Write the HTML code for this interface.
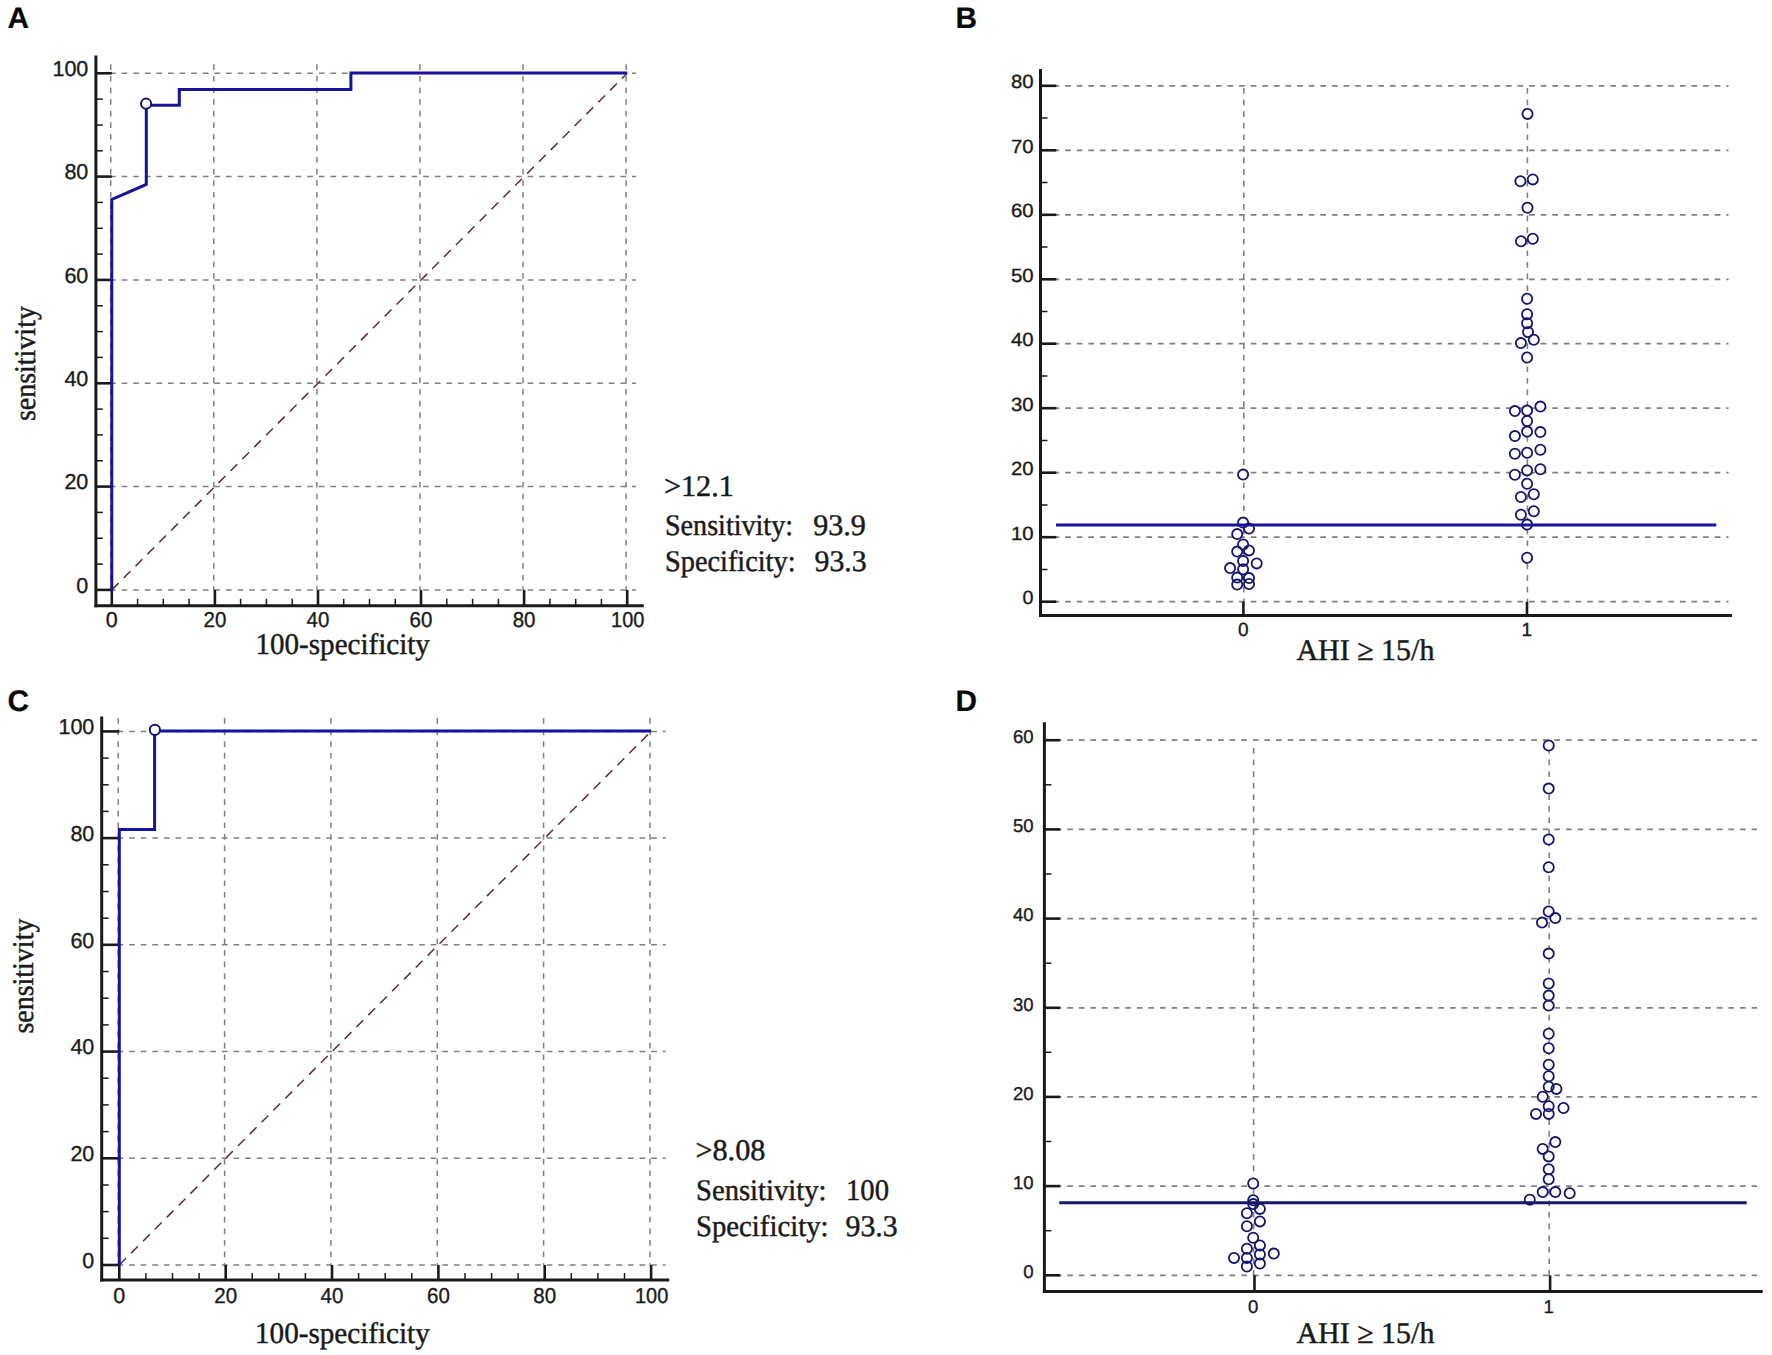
<!DOCTYPE html>
<html lang="en"><head><meta charset="utf-8"><title>ROC curves and dot plots</title>
<style>html,body{margin:0;padding:0;background:#fff}svg{display:block}</style></head>
<body>
<svg width="1772" height="1355" viewBox="0 0 1772 1355" text-rendering="geometricPrecision">
<rect width="1772" height="1355" fill="#fff"/>
<text x="7.6" y="28.1" font-family='"Liberation Sans", sans-serif' font-size="29.8" text-anchor="start" fill="#0a0a0a" font-weight="bold" stroke="#0a0a0a" stroke-width="0.2">A</text>
<text x="955.4" y="28.0" font-family='"Liberation Sans", sans-serif' font-size="29.8" text-anchor="start" fill="#0a0a0a" font-weight="bold" stroke="#0a0a0a" stroke-width="0.2">B</text>
<text x="7.4" y="711.0" font-family='"Liberation Sans", sans-serif' font-size="29.8" text-anchor="start" fill="#0a0a0a" font-weight="bold" stroke="#0a0a0a" stroke-width="0.2">C</text>
<text x="955.4" y="711.0" font-family='"Liberation Sans", sans-serif' font-size="29.8" text-anchor="start" fill="#0a0a0a" font-weight="bold" stroke="#0a0a0a" stroke-width="0.2">D</text>
<line x1="110.0" y1="589.9" x2="636.0" y2="589.9" stroke="#808080" stroke-width="1.5" stroke-dasharray="5.7 5.9"/>
<line x1="110.7" y1="64.3" x2="110.7" y2="589.9" stroke="#808080" stroke-width="1.5" stroke-dasharray="5.7 5.9"/>
<line x1="110.0" y1="486.6" x2="636.0" y2="486.6" stroke="#808080" stroke-width="1.5" stroke-dasharray="5.7 5.9"/>
<line x1="213.8" y1="64.3" x2="213.8" y2="589.9" stroke="#808080" stroke-width="1.5" stroke-dasharray="5.7 5.9"/>
<line x1="110.0" y1="383.3" x2="636.0" y2="383.3" stroke="#808080" stroke-width="1.5" stroke-dasharray="5.7 5.9"/>
<line x1="316.9" y1="64.3" x2="316.9" y2="589.9" stroke="#808080" stroke-width="1.5" stroke-dasharray="5.7 5.9"/>
<line x1="110.0" y1="279.9" x2="636.0" y2="279.9" stroke="#808080" stroke-width="1.5" stroke-dasharray="5.7 5.9"/>
<line x1="419.9" y1="64.3" x2="419.9" y2="589.9" stroke="#808080" stroke-width="1.5" stroke-dasharray="5.7 5.9"/>
<line x1="110.0" y1="176.6" x2="636.0" y2="176.6" stroke="#808080" stroke-width="1.5" stroke-dasharray="5.7 5.9"/>
<line x1="523.0" y1="64.3" x2="523.0" y2="589.9" stroke="#808080" stroke-width="1.5" stroke-dasharray="5.7 5.9"/>
<line x1="110.0" y1="73.3" x2="636.0" y2="73.3" stroke="#808080" stroke-width="1.5" stroke-dasharray="5.7 5.9"/>
<line x1="626.1" y1="64.3" x2="626.1" y2="589.9" stroke="#808080" stroke-width="1.5" stroke-dasharray="5.7 5.9"/>
<line x1="111.8" y1="589.9" x2="627.2" y2="73.3" stroke="#5b2d3c" stroke-width="1.5" stroke-dasharray="9.6 7.2"/>
<line x1="95.9" y1="55.5" x2="95.9" y2="607.3" stroke="#1a1a1a" stroke-width="3"/>
<line x1="94.4" y1="605.8" x2="643.8" y2="605.8" stroke="#1a1a1a" stroke-width="3"/>
<line x1="95.9" y1="589.9" x2="111.8" y2="589.9" stroke="#1a1a1a" stroke-width="2.6"/>
<line x1="111.8" y1="605.8" x2="111.8" y2="589.9" stroke="#1a1a1a" stroke-width="2.6"/>
<line x1="95.9" y1="564.1" x2="102.9" y2="564.1" stroke="#1a1a1a" stroke-width="1.5"/>
<line x1="137.6" y1="605.8" x2="137.6" y2="598.8" stroke="#1a1a1a" stroke-width="1.5"/>
<line x1="95.9" y1="538.2" x2="102.9" y2="538.2" stroke="#1a1a1a" stroke-width="1.5"/>
<line x1="163.3" y1="605.8" x2="163.3" y2="598.8" stroke="#1a1a1a" stroke-width="1.5"/>
<line x1="95.9" y1="512.4" x2="102.9" y2="512.4" stroke="#1a1a1a" stroke-width="1.5"/>
<line x1="189.1" y1="605.8" x2="189.1" y2="598.8" stroke="#1a1a1a" stroke-width="1.5"/>
<line x1="95.9" y1="486.6" x2="111.8" y2="486.6" stroke="#1a1a1a" stroke-width="2.6"/>
<line x1="214.9" y1="605.8" x2="214.9" y2="589.9" stroke="#1a1a1a" stroke-width="2.6"/>
<line x1="95.9" y1="460.8" x2="102.9" y2="460.8" stroke="#1a1a1a" stroke-width="1.5"/>
<line x1="240.6" y1="605.8" x2="240.6" y2="598.8" stroke="#1a1a1a" stroke-width="1.5"/>
<line x1="95.9" y1="434.9" x2="102.9" y2="434.9" stroke="#1a1a1a" stroke-width="1.5"/>
<line x1="266.4" y1="605.8" x2="266.4" y2="598.8" stroke="#1a1a1a" stroke-width="1.5"/>
<line x1="95.9" y1="409.1" x2="102.9" y2="409.1" stroke="#1a1a1a" stroke-width="1.5"/>
<line x1="292.2" y1="605.8" x2="292.2" y2="598.8" stroke="#1a1a1a" stroke-width="1.5"/>
<line x1="95.9" y1="383.3" x2="111.8" y2="383.3" stroke="#1a1a1a" stroke-width="2.6"/>
<line x1="318.0" y1="605.8" x2="318.0" y2="589.9" stroke="#1a1a1a" stroke-width="2.6"/>
<line x1="95.9" y1="357.4" x2="102.9" y2="357.4" stroke="#1a1a1a" stroke-width="1.5"/>
<line x1="343.7" y1="605.8" x2="343.7" y2="598.8" stroke="#1a1a1a" stroke-width="1.5"/>
<line x1="95.9" y1="331.6" x2="102.9" y2="331.6" stroke="#1a1a1a" stroke-width="1.5"/>
<line x1="369.5" y1="605.8" x2="369.5" y2="598.8" stroke="#1a1a1a" stroke-width="1.5"/>
<line x1="95.9" y1="305.8" x2="102.9" y2="305.8" stroke="#1a1a1a" stroke-width="1.5"/>
<line x1="395.3" y1="605.8" x2="395.3" y2="598.8" stroke="#1a1a1a" stroke-width="1.5"/>
<line x1="95.9" y1="279.9" x2="111.8" y2="279.9" stroke="#1a1a1a" stroke-width="2.6"/>
<line x1="421.0" y1="605.8" x2="421.0" y2="589.9" stroke="#1a1a1a" stroke-width="2.6"/>
<line x1="95.9" y1="254.1" x2="102.9" y2="254.1" stroke="#1a1a1a" stroke-width="1.5"/>
<line x1="446.8" y1="605.8" x2="446.8" y2="598.8" stroke="#1a1a1a" stroke-width="1.5"/>
<line x1="95.9" y1="228.3" x2="102.9" y2="228.3" stroke="#1a1a1a" stroke-width="1.5"/>
<line x1="472.6" y1="605.8" x2="472.6" y2="598.8" stroke="#1a1a1a" stroke-width="1.5"/>
<line x1="95.9" y1="202.4" x2="102.9" y2="202.4" stroke="#1a1a1a" stroke-width="1.5"/>
<line x1="498.4" y1="605.8" x2="498.4" y2="598.8" stroke="#1a1a1a" stroke-width="1.5"/>
<line x1="95.9" y1="176.6" x2="111.8" y2="176.6" stroke="#1a1a1a" stroke-width="2.6"/>
<line x1="524.1" y1="605.8" x2="524.1" y2="589.9" stroke="#1a1a1a" stroke-width="2.6"/>
<line x1="95.9" y1="150.8" x2="102.9" y2="150.8" stroke="#1a1a1a" stroke-width="1.5"/>
<line x1="549.9" y1="605.8" x2="549.9" y2="598.8" stroke="#1a1a1a" stroke-width="1.5"/>
<line x1="95.9" y1="125.0" x2="102.9" y2="125.0" stroke="#1a1a1a" stroke-width="1.5"/>
<line x1="575.7" y1="605.8" x2="575.7" y2="598.8" stroke="#1a1a1a" stroke-width="1.5"/>
<line x1="95.9" y1="99.1" x2="102.9" y2="99.1" stroke="#1a1a1a" stroke-width="1.5"/>
<line x1="601.4" y1="605.8" x2="601.4" y2="598.8" stroke="#1a1a1a" stroke-width="1.5"/>
<line x1="95.9" y1="73.3" x2="111.8" y2="73.3" stroke="#1a1a1a" stroke-width="2.6"/>
<line x1="627.2" y1="605.8" x2="627.2" y2="589.9" stroke="#1a1a1a" stroke-width="2.6"/>
<text x="88.3" y="592.7" font-family='"Liberation Sans", sans-serif' font-size="21.5" text-anchor="end" fill="#1a1a1a" stroke="#1a1a1a" stroke-width="0.35">0</text>
<text x="111.8" y="627.2" font-family='"Liberation Sans", sans-serif' font-size="21.5" text-anchor="middle" fill="#1a1a1a" stroke="#1a1a1a" stroke-width="0.35">0</text>
<text x="88.3" y="489.4" font-family='"Liberation Sans", sans-serif' font-size="21.5" text-anchor="end" fill="#1a1a1a" stroke="#1a1a1a" stroke-width="0.35">20</text>
<text x="214.9" y="627.2" font-family='"Liberation Sans", sans-serif' font-size="21.5" text-anchor="middle" fill="#1a1a1a" stroke="#1a1a1a" stroke-width="0.35" textLength="22.8" lengthAdjust="spacingAndGlyphs">20</text>
<text x="88.3" y="386.1" font-family='"Liberation Sans", sans-serif' font-size="21.5" text-anchor="end" fill="#1a1a1a" stroke="#1a1a1a" stroke-width="0.35">40</text>
<text x="318.0" y="627.2" font-family='"Liberation Sans", sans-serif' font-size="21.5" text-anchor="middle" fill="#1a1a1a" stroke="#1a1a1a" stroke-width="0.35" textLength="22.8" lengthAdjust="spacingAndGlyphs">40</text>
<text x="88.3" y="282.7" font-family='"Liberation Sans", sans-serif' font-size="21.5" text-anchor="end" fill="#1a1a1a" stroke="#1a1a1a" stroke-width="0.35">60</text>
<text x="421.0" y="627.2" font-family='"Liberation Sans", sans-serif' font-size="21.5" text-anchor="middle" fill="#1a1a1a" stroke="#1a1a1a" stroke-width="0.35" textLength="22.8" lengthAdjust="spacingAndGlyphs">60</text>
<text x="88.3" y="179.4" font-family='"Liberation Sans", sans-serif' font-size="21.5" text-anchor="end" fill="#1a1a1a" stroke="#1a1a1a" stroke-width="0.35">80</text>
<text x="524.1" y="627.2" font-family='"Liberation Sans", sans-serif' font-size="21.5" text-anchor="middle" fill="#1a1a1a" stroke="#1a1a1a" stroke-width="0.35" textLength="22.8" lengthAdjust="spacingAndGlyphs">80</text>
<text x="88.3" y="76.1" font-family='"Liberation Sans", sans-serif' font-size="21.5" text-anchor="end" fill="#1a1a1a" stroke="#1a1a1a" stroke-width="0.35">100</text>
<text x="627.7" y="627.2" font-family='"Liberation Sans", sans-serif' font-size="21.5" text-anchor="middle" fill="#1a1a1a" stroke="#1a1a1a" stroke-width="0.35" textLength="33.3" lengthAdjust="spacingAndGlyphs">100</text>
<polyline points="111.8,589.9 111.8,199.4 146.3,184.4 146.3,105.3 179.3,105.3 179.3,89.6 350.9,89.6 350.9,73.0 627.2,73.0" fill="none" stroke="#17139a" stroke-width="3" stroke-linejoin="miter"/>
<circle cx="146.1" cy="103.7" r="5.1" fill="#fff" stroke="#15156e" stroke-width="2"/>
<text x="255.5" y="653.8" font-family='"Liberation Serif", serif' font-size="30" text-anchor="start" fill="#1a1a1a" stroke="#1a1a1a" stroke-width="0.45" textLength="174.4" lengthAdjust="spacingAndGlyphs">100-specificity</text>
<text x="0.0" y="0.0" font-family='"Liberation Serif", serif' font-size="30" text-anchor="middle" fill="#1a1a1a" stroke="#1a1a1a" stroke-width="0.45" textLength="115.0" lengthAdjust="spacingAndGlyphs" transform="translate(34.6,363.6) rotate(-90)">sensitivity</text>
<text x="663.9" y="495.6" font-family='"Liberation Serif", serif' font-size="30" text-anchor="start" fill="#1a1a1a" stroke="#1a1a1a" stroke-width="0.45" textLength="70.0" lengthAdjust="spacingAndGlyphs">&gt;12.1</text>
<text x="665.0" y="534.5" font-family='"Liberation Serif", serif' font-size="30" text-anchor="start" fill="#1a1a1a" stroke="#1a1a1a" stroke-width="0.45" textLength="128.0" lengthAdjust="spacingAndGlyphs">Sensitivity:</text>
<text x="813.2" y="534.5" font-family='"Liberation Serif", serif' font-size="30" text-anchor="start" fill="#1a1a1a" stroke="#1a1a1a" stroke-width="0.45" textLength="52.7" lengthAdjust="spacingAndGlyphs">93.9</text>
<text x="665.0" y="570.9" font-family='"Liberation Serif", serif' font-size="30" text-anchor="start" fill="#1a1a1a" stroke="#1a1a1a" stroke-width="0.45" textLength="130.5" lengthAdjust="spacingAndGlyphs">Specificity:</text>
<text x="814.5" y="570.9" font-family='"Liberation Serif", serif' font-size="30" text-anchor="start" fill="#1a1a1a" stroke="#1a1a1a" stroke-width="0.45" textLength="52.2" lengthAdjust="spacingAndGlyphs">93.3</text>
<line x1="117.5" y1="1265.0" x2="665.7" y2="1265.0" stroke="#808080" stroke-width="1.5" stroke-dasharray="5.7 5.9"/>
<line x1="118.2" y1="718.0" x2="118.2" y2="1265.0" stroke="#808080" stroke-width="1.5" stroke-dasharray="5.7 5.9"/>
<line x1="117.5" y1="1158.3" x2="665.7" y2="1158.3" stroke="#808080" stroke-width="1.5" stroke-dasharray="5.7 5.9"/>
<line x1="224.6" y1="718.0" x2="224.6" y2="1265.0" stroke="#808080" stroke-width="1.5" stroke-dasharray="5.7 5.9"/>
<line x1="117.5" y1="1051.6" x2="665.7" y2="1051.6" stroke="#808080" stroke-width="1.5" stroke-dasharray="5.7 5.9"/>
<line x1="330.9" y1="718.0" x2="330.9" y2="1265.0" stroke="#808080" stroke-width="1.5" stroke-dasharray="5.7 5.9"/>
<line x1="117.5" y1="944.8" x2="665.7" y2="944.8" stroke="#808080" stroke-width="1.5" stroke-dasharray="5.7 5.9"/>
<line x1="437.3" y1="718.0" x2="437.3" y2="1265.0" stroke="#808080" stroke-width="1.5" stroke-dasharray="5.7 5.9"/>
<line x1="117.5" y1="838.1" x2="665.7" y2="838.1" stroke="#808080" stroke-width="1.5" stroke-dasharray="5.7 5.9"/>
<line x1="543.6" y1="718.0" x2="543.6" y2="1265.0" stroke="#808080" stroke-width="1.5" stroke-dasharray="5.7 5.9"/>
<line x1="117.5" y1="731.4" x2="665.7" y2="731.4" stroke="#808080" stroke-width="1.5" stroke-dasharray="5.7 5.9"/>
<line x1="650.0" y1="718.0" x2="650.0" y2="1265.0" stroke="#808080" stroke-width="1.5" stroke-dasharray="5.7 5.9"/>
<line x1="119.3" y1="1265.0" x2="651.1" y2="731.4" stroke="#5b2d3c" stroke-width="1.5" stroke-dasharray="9.6 7.2"/>
<line x1="101.7" y1="716.4" x2="101.7" y2="1281.5" stroke="#1a1a1a" stroke-width="3"/>
<line x1="100.2" y1="1280.0" x2="669.2" y2="1280.0" stroke="#1a1a1a" stroke-width="3"/>
<line x1="101.7" y1="1265.0" x2="119.3" y2="1265.0" stroke="#1a1a1a" stroke-width="2.6"/>
<line x1="119.3" y1="1280.0" x2="119.3" y2="1265.0" stroke="#1a1a1a" stroke-width="2.6"/>
<line x1="101.7" y1="1238.3" x2="108.7" y2="1238.3" stroke="#1a1a1a" stroke-width="1.5"/>
<line x1="145.9" y1="1280.0" x2="145.9" y2="1273.0" stroke="#1a1a1a" stroke-width="1.5"/>
<line x1="101.7" y1="1211.6" x2="108.7" y2="1211.6" stroke="#1a1a1a" stroke-width="1.5"/>
<line x1="172.5" y1="1280.0" x2="172.5" y2="1273.0" stroke="#1a1a1a" stroke-width="1.5"/>
<line x1="101.7" y1="1185.0" x2="108.7" y2="1185.0" stroke="#1a1a1a" stroke-width="1.5"/>
<line x1="199.1" y1="1280.0" x2="199.1" y2="1273.0" stroke="#1a1a1a" stroke-width="1.5"/>
<line x1="101.7" y1="1158.3" x2="119.3" y2="1158.3" stroke="#1a1a1a" stroke-width="2.6"/>
<line x1="225.7" y1="1280.0" x2="225.7" y2="1265.0" stroke="#1a1a1a" stroke-width="2.6"/>
<line x1="101.7" y1="1131.6" x2="108.7" y2="1131.6" stroke="#1a1a1a" stroke-width="1.5"/>
<line x1="252.2" y1="1280.0" x2="252.2" y2="1273.0" stroke="#1a1a1a" stroke-width="1.5"/>
<line x1="101.7" y1="1104.9" x2="108.7" y2="1104.9" stroke="#1a1a1a" stroke-width="1.5"/>
<line x1="278.8" y1="1280.0" x2="278.8" y2="1273.0" stroke="#1a1a1a" stroke-width="1.5"/>
<line x1="101.7" y1="1078.2" x2="108.7" y2="1078.2" stroke="#1a1a1a" stroke-width="1.5"/>
<line x1="305.4" y1="1280.0" x2="305.4" y2="1273.0" stroke="#1a1a1a" stroke-width="1.5"/>
<line x1="101.7" y1="1051.6" x2="119.3" y2="1051.6" stroke="#1a1a1a" stroke-width="2.6"/>
<line x1="332.0" y1="1280.0" x2="332.0" y2="1265.0" stroke="#1a1a1a" stroke-width="2.6"/>
<line x1="101.7" y1="1024.9" x2="108.7" y2="1024.9" stroke="#1a1a1a" stroke-width="1.5"/>
<line x1="358.6" y1="1280.0" x2="358.6" y2="1273.0" stroke="#1a1a1a" stroke-width="1.5"/>
<line x1="101.7" y1="998.2" x2="108.7" y2="998.2" stroke="#1a1a1a" stroke-width="1.5"/>
<line x1="385.2" y1="1280.0" x2="385.2" y2="1273.0" stroke="#1a1a1a" stroke-width="1.5"/>
<line x1="101.7" y1="971.5" x2="108.7" y2="971.5" stroke="#1a1a1a" stroke-width="1.5"/>
<line x1="411.8" y1="1280.0" x2="411.8" y2="1273.0" stroke="#1a1a1a" stroke-width="1.5"/>
<line x1="101.7" y1="944.8" x2="119.3" y2="944.8" stroke="#1a1a1a" stroke-width="2.6"/>
<line x1="438.4" y1="1280.0" x2="438.4" y2="1265.0" stroke="#1a1a1a" stroke-width="2.6"/>
<line x1="101.7" y1="918.2" x2="108.7" y2="918.2" stroke="#1a1a1a" stroke-width="1.5"/>
<line x1="465.0" y1="1280.0" x2="465.0" y2="1273.0" stroke="#1a1a1a" stroke-width="1.5"/>
<line x1="101.7" y1="891.5" x2="108.7" y2="891.5" stroke="#1a1a1a" stroke-width="1.5"/>
<line x1="491.6" y1="1280.0" x2="491.6" y2="1273.0" stroke="#1a1a1a" stroke-width="1.5"/>
<line x1="101.7" y1="864.8" x2="108.7" y2="864.8" stroke="#1a1a1a" stroke-width="1.5"/>
<line x1="518.1" y1="1280.0" x2="518.1" y2="1273.0" stroke="#1a1a1a" stroke-width="1.5"/>
<line x1="101.7" y1="838.1" x2="119.3" y2="838.1" stroke="#1a1a1a" stroke-width="2.6"/>
<line x1="544.7" y1="1280.0" x2="544.7" y2="1265.0" stroke="#1a1a1a" stroke-width="2.6"/>
<line x1="101.7" y1="811.4" x2="108.7" y2="811.4" stroke="#1a1a1a" stroke-width="1.5"/>
<line x1="571.3" y1="1280.0" x2="571.3" y2="1273.0" stroke="#1a1a1a" stroke-width="1.5"/>
<line x1="101.7" y1="784.8" x2="108.7" y2="784.8" stroke="#1a1a1a" stroke-width="1.5"/>
<line x1="597.9" y1="1280.0" x2="597.9" y2="1273.0" stroke="#1a1a1a" stroke-width="1.5"/>
<line x1="101.7" y1="758.1" x2="108.7" y2="758.1" stroke="#1a1a1a" stroke-width="1.5"/>
<line x1="624.5" y1="1280.0" x2="624.5" y2="1273.0" stroke="#1a1a1a" stroke-width="1.5"/>
<line x1="101.7" y1="731.4" x2="119.3" y2="731.4" stroke="#1a1a1a" stroke-width="2.6"/>
<line x1="651.1" y1="1280.0" x2="651.1" y2="1265.0" stroke="#1a1a1a" stroke-width="2.6"/>
<text x="94.3" y="1267.8" font-family='"Liberation Sans", sans-serif' font-size="21.5" text-anchor="end" fill="#1a1a1a" stroke="#1a1a1a" stroke-width="0.35">0</text>
<text x="119.3" y="1303.2" font-family='"Liberation Sans", sans-serif' font-size="21.5" text-anchor="middle" fill="#1a1a1a" stroke="#1a1a1a" stroke-width="0.35">0</text>
<text x="94.3" y="1161.1" font-family='"Liberation Sans", sans-serif' font-size="21.5" text-anchor="end" fill="#1a1a1a" stroke="#1a1a1a" stroke-width="0.35">20</text>
<text x="225.7" y="1303.2" font-family='"Liberation Sans", sans-serif' font-size="21.5" text-anchor="middle" fill="#1a1a1a" stroke="#1a1a1a" stroke-width="0.35" textLength="22.8" lengthAdjust="spacingAndGlyphs">20</text>
<text x="94.3" y="1054.4" font-family='"Liberation Sans", sans-serif' font-size="21.5" text-anchor="end" fill="#1a1a1a" stroke="#1a1a1a" stroke-width="0.35">40</text>
<text x="332.0" y="1303.2" font-family='"Liberation Sans", sans-serif' font-size="21.5" text-anchor="middle" fill="#1a1a1a" stroke="#1a1a1a" stroke-width="0.35" textLength="22.8" lengthAdjust="spacingAndGlyphs">40</text>
<text x="94.3" y="947.6" font-family='"Liberation Sans", sans-serif' font-size="21.5" text-anchor="end" fill="#1a1a1a" stroke="#1a1a1a" stroke-width="0.35">60</text>
<text x="438.4" y="1303.2" font-family='"Liberation Sans", sans-serif' font-size="21.5" text-anchor="middle" fill="#1a1a1a" stroke="#1a1a1a" stroke-width="0.35" textLength="22.8" lengthAdjust="spacingAndGlyphs">60</text>
<text x="94.3" y="840.9" font-family='"Liberation Sans", sans-serif' font-size="21.5" text-anchor="end" fill="#1a1a1a" stroke="#1a1a1a" stroke-width="0.35">80</text>
<text x="544.7" y="1303.2" font-family='"Liberation Sans", sans-serif' font-size="21.5" text-anchor="middle" fill="#1a1a1a" stroke="#1a1a1a" stroke-width="0.35" textLength="22.8" lengthAdjust="spacingAndGlyphs">80</text>
<text x="94.3" y="734.2" font-family='"Liberation Sans", sans-serif' font-size="21.5" text-anchor="end" fill="#1a1a1a" stroke="#1a1a1a" stroke-width="0.35">100</text>
<text x="651.6" y="1303.2" font-family='"Liberation Sans", sans-serif' font-size="21.5" text-anchor="middle" fill="#1a1a1a" stroke="#1a1a1a" stroke-width="0.35" textLength="33.3" lengthAdjust="spacingAndGlyphs">100</text>
<polyline points="119.3,1265.0 119.3,829.6 154.6,829.6 154.6,731.1 651.1,731.1" fill="none" stroke="#17139a" stroke-width="3" stroke-linejoin="miter"/>
<circle cx="154.9" cy="729.9" r="5.1" fill="#fff" stroke="#15156e" stroke-width="2"/>
<text x="255.0" y="1342.6" font-family='"Liberation Serif", serif' font-size="30" text-anchor="start" fill="#1a1a1a" stroke="#1a1a1a" stroke-width="0.45" textLength="174.8" lengthAdjust="spacingAndGlyphs">100-specificity</text>
<text x="0.0" y="0.0" font-family='"Liberation Serif", serif' font-size="30" text-anchor="middle" fill="#1a1a1a" stroke="#1a1a1a" stroke-width="0.45" textLength="115.0" lengthAdjust="spacingAndGlyphs" transform="translate(32.9,976.1) rotate(-90)">sensitivity</text>
<text x="695.4" y="1160.1" font-family='"Liberation Serif", serif' font-size="30" text-anchor="start" fill="#1a1a1a" stroke="#1a1a1a" stroke-width="0.45" textLength="70.0" lengthAdjust="spacingAndGlyphs">&gt;8.08</text>
<text x="696.0" y="1199.5" font-family='"Liberation Serif", serif' font-size="30" text-anchor="start" fill="#1a1a1a" stroke="#1a1a1a" stroke-width="0.45" textLength="130.5" lengthAdjust="spacingAndGlyphs">Sensitivity:</text>
<text x="846.0" y="1199.5" font-family='"Liberation Serif", serif' font-size="30" text-anchor="start" fill="#1a1a1a" stroke="#1a1a1a" stroke-width="0.45" textLength="43.0" lengthAdjust="spacingAndGlyphs">100</text>
<text x="696.0" y="1235.9" font-family='"Liberation Serif", serif' font-size="30" text-anchor="start" fill="#1a1a1a" stroke="#1a1a1a" stroke-width="0.45" textLength="132.5" lengthAdjust="spacingAndGlyphs">Specificity:</text>
<text x="845.5" y="1235.9" font-family='"Liberation Serif", serif' font-size="30" text-anchor="start" fill="#1a1a1a" stroke="#1a1a1a" stroke-width="0.45" textLength="52.2" lengthAdjust="spacingAndGlyphs">93.3</text>
<line x1="1053.5" y1="601.7" x2="1728.5" y2="601.7" stroke="#808080" stroke-width="1.8" stroke-dasharray="5.7 5.9"/>
<line x1="1053.5" y1="537.2" x2="1728.5" y2="537.2" stroke="#808080" stroke-width="1.8" stroke-dasharray="5.7 5.9"/>
<line x1="1053.5" y1="472.7" x2="1728.5" y2="472.7" stroke="#808080" stroke-width="1.8" stroke-dasharray="5.7 5.9"/>
<line x1="1053.5" y1="408.2" x2="1728.5" y2="408.2" stroke="#808080" stroke-width="1.8" stroke-dasharray="5.7 5.9"/>
<line x1="1053.5" y1="343.7" x2="1728.5" y2="343.7" stroke="#808080" stroke-width="1.8" stroke-dasharray="5.7 5.9"/>
<line x1="1053.5" y1="279.3" x2="1728.5" y2="279.3" stroke="#808080" stroke-width="1.8" stroke-dasharray="5.7 5.9"/>
<line x1="1053.5" y1="214.8" x2="1728.5" y2="214.8" stroke="#808080" stroke-width="1.8" stroke-dasharray="5.7 5.9"/>
<line x1="1053.5" y1="150.3" x2="1728.5" y2="150.3" stroke="#808080" stroke-width="1.8" stroke-dasharray="5.7 5.9"/>
<line x1="1053.5" y1="85.8" x2="1728.5" y2="85.8" stroke="#808080" stroke-width="1.8" stroke-dasharray="5.7 5.9"/>
<line x1="1243.8" y1="88.0" x2="1243.8" y2="601.7" stroke="#808080" stroke-width="1.6" stroke-dasharray="5.7 5.9"/>
<line x1="1527.4" y1="88.0" x2="1527.4" y2="601.7" stroke="#808080" stroke-width="1.6" stroke-dasharray="5.7 5.9"/>
<line x1="1040.5" y1="69.0" x2="1040.5" y2="617.0" stroke="#1a1a1a" stroke-width="3"/>
<line x1="1039.0" y1="615.5" x2="1731.9" y2="615.5" stroke="#1a1a1a" stroke-width="3"/>
<line x1="1040.5" y1="601.7" x2="1056.3" y2="601.7" stroke="#1a1a1a" stroke-width="2.6"/>
<text x="1033.6" y="604.2" font-family='"Liberation Sans", sans-serif' font-size="19" text-anchor="end" fill="#1a1a1a" stroke="#1a1a1a" stroke-width="0.35" textLength="11.0" lengthAdjust="spacingAndGlyphs">0</text>
<line x1="1040.5" y1="569.5" x2="1047.5" y2="569.5" stroke="#1a1a1a" stroke-width="1.5"/>
<line x1="1040.5" y1="537.2" x2="1056.3" y2="537.2" stroke="#1a1a1a" stroke-width="2.6"/>
<text x="1033.6" y="539.7" font-family='"Liberation Sans", sans-serif' font-size="19" text-anchor="end" fill="#1a1a1a" stroke="#1a1a1a" stroke-width="0.35" textLength="22.6" lengthAdjust="spacingAndGlyphs">10</text>
<line x1="1040.5" y1="505.0" x2="1047.5" y2="505.0" stroke="#1a1a1a" stroke-width="1.5"/>
<line x1="1040.5" y1="472.7" x2="1056.3" y2="472.7" stroke="#1a1a1a" stroke-width="2.6"/>
<text x="1033.6" y="475.2" font-family='"Liberation Sans", sans-serif' font-size="19" text-anchor="end" fill="#1a1a1a" stroke="#1a1a1a" stroke-width="0.35" textLength="22.6" lengthAdjust="spacingAndGlyphs">20</text>
<line x1="1040.5" y1="440.5" x2="1047.5" y2="440.5" stroke="#1a1a1a" stroke-width="1.5"/>
<line x1="1040.5" y1="408.2" x2="1056.3" y2="408.2" stroke="#1a1a1a" stroke-width="2.6"/>
<text x="1033.6" y="410.7" font-family='"Liberation Sans", sans-serif' font-size="19" text-anchor="end" fill="#1a1a1a" stroke="#1a1a1a" stroke-width="0.35" textLength="22.6" lengthAdjust="spacingAndGlyphs">30</text>
<line x1="1040.5" y1="376.0" x2="1047.5" y2="376.0" stroke="#1a1a1a" stroke-width="1.5"/>
<line x1="1040.5" y1="343.7" x2="1056.3" y2="343.7" stroke="#1a1a1a" stroke-width="2.6"/>
<text x="1033.6" y="346.2" font-family='"Liberation Sans", sans-serif' font-size="19" text-anchor="end" fill="#1a1a1a" stroke="#1a1a1a" stroke-width="0.35" textLength="22.6" lengthAdjust="spacingAndGlyphs">40</text>
<line x1="1040.5" y1="311.5" x2="1047.5" y2="311.5" stroke="#1a1a1a" stroke-width="1.5"/>
<line x1="1040.5" y1="279.3" x2="1056.3" y2="279.3" stroke="#1a1a1a" stroke-width="2.6"/>
<text x="1033.6" y="281.8" font-family='"Liberation Sans", sans-serif' font-size="19" text-anchor="end" fill="#1a1a1a" stroke="#1a1a1a" stroke-width="0.35" textLength="22.6" lengthAdjust="spacingAndGlyphs">50</text>
<line x1="1040.5" y1="247.0" x2="1047.5" y2="247.0" stroke="#1a1a1a" stroke-width="1.5"/>
<line x1="1040.5" y1="214.8" x2="1056.3" y2="214.8" stroke="#1a1a1a" stroke-width="2.6"/>
<text x="1033.6" y="217.3" font-family='"Liberation Sans", sans-serif' font-size="19" text-anchor="end" fill="#1a1a1a" stroke="#1a1a1a" stroke-width="0.35" textLength="22.6" lengthAdjust="spacingAndGlyphs">60</text>
<line x1="1040.5" y1="182.5" x2="1047.5" y2="182.5" stroke="#1a1a1a" stroke-width="1.5"/>
<line x1="1040.5" y1="150.3" x2="1056.3" y2="150.3" stroke="#1a1a1a" stroke-width="2.6"/>
<text x="1033.6" y="152.8" font-family='"Liberation Sans", sans-serif' font-size="19" text-anchor="end" fill="#1a1a1a" stroke="#1a1a1a" stroke-width="0.35" textLength="22.6" lengthAdjust="spacingAndGlyphs">70</text>
<line x1="1040.5" y1="118.0" x2="1047.5" y2="118.0" stroke="#1a1a1a" stroke-width="1.5"/>
<line x1="1040.5" y1="85.8" x2="1056.3" y2="85.8" stroke="#1a1a1a" stroke-width="2.6"/>
<text x="1033.6" y="88.3" font-family='"Liberation Sans", sans-serif' font-size="19" text-anchor="end" fill="#1a1a1a" stroke="#1a1a1a" stroke-width="0.35" textLength="22.6" lengthAdjust="spacingAndGlyphs">80</text>
<line x1="1243.4" y1="615.5" x2="1243.4" y2="601.7" stroke="#1a1a1a" stroke-width="2.6"/>
<text x="1243.3" y="636.2" font-family='"Liberation Sans", sans-serif' font-size="19" text-anchor="middle" fill="#1a1a1a" stroke="#1a1a1a" stroke-width="0.35">0</text>
<line x1="1527.0" y1="615.5" x2="1527.0" y2="601.7" stroke="#1a1a1a" stroke-width="2.6"/>
<text x="1526.9" y="636.2" font-family='"Liberation Sans", sans-serif' font-size="19" text-anchor="middle" fill="#1a1a1a" stroke="#1a1a1a" stroke-width="0.35">1</text>
<g fill="#fff" stroke="none">
<circle cx="1243.1" cy="474.6" r="5.1"/>
<circle cx="1243.1" cy="522.6" r="5.1"/>
<circle cx="1249.0" cy="528.5" r="5.1"/>
<circle cx="1237.2" cy="534.1" r="5.1"/>
<circle cx="1243.1" cy="544.5" r="5.1"/>
<circle cx="1249.0" cy="550.4" r="5.1"/>
<circle cx="1237.2" cy="551.6" r="5.1"/>
<circle cx="1243.1" cy="561.0" r="5.1"/>
<circle cx="1256.7" cy="563.4" r="5.1"/>
<circle cx="1230.1" cy="568.1" r="5.1"/>
<circle cx="1243.1" cy="569.3" r="5.1"/>
<circle cx="1237.2" cy="577.6" r="5.1"/>
<circle cx="1249.0" cy="578.1" r="5.1"/>
<circle cx="1237.2" cy="584.6" r="5.1"/>
<circle cx="1249.0" cy="584.0" r="5.1"/>
<circle cx="1527.5" cy="113.9" r="5.1"/>
<circle cx="1520.4" cy="181.2" r="5.1"/>
<circle cx="1532.8" cy="179.4" r="5.1"/>
<circle cx="1527.5" cy="207.7" r="5.1"/>
<circle cx="1521.0" cy="241.3" r="5.1"/>
<circle cx="1532.8" cy="238.7" r="5.1"/>
<circle cx="1527.1" cy="298.8" r="5.1"/>
<circle cx="1527.1" cy="314.3" r="5.1"/>
<circle cx="1527.1" cy="323.2" r="5.1"/>
<circle cx="1528.0" cy="332.0" r="5.1"/>
<circle cx="1520.9" cy="343.1" r="5.1"/>
<circle cx="1533.8" cy="339.8" r="5.1"/>
<circle cx="1527.1" cy="357.5" r="5.1"/>
<circle cx="1540.4" cy="406.6" r="5.1"/>
<circle cx="1514.9" cy="411.1" r="5.1"/>
<circle cx="1527.1" cy="410.6" r="5.1"/>
<circle cx="1527.1" cy="421.0" r="5.1"/>
<circle cx="1527.1" cy="431.6" r="5.1"/>
<circle cx="1540.4" cy="432.1" r="5.1"/>
<circle cx="1514.9" cy="436.1" r="5.1"/>
<circle cx="1540.4" cy="449.8" r="5.1"/>
<circle cx="1527.1" cy="452.7" r="5.1"/>
<circle cx="1514.9" cy="453.8" r="5.1"/>
<circle cx="1540.4" cy="469.3" r="5.1"/>
<circle cx="1527.1" cy="470.4" r="5.1"/>
<circle cx="1514.9" cy="474.8" r="5.1"/>
<circle cx="1527.1" cy="483.7" r="5.1"/>
<circle cx="1533.8" cy="494.3" r="5.1"/>
<circle cx="1520.9" cy="497.0" r="5.1"/>
<circle cx="1533.8" cy="511.3" r="5.1"/>
<circle cx="1520.9" cy="514.7" r="5.1"/>
<circle cx="1527.1" cy="524.6" r="5.1"/>
<circle cx="1527.1" cy="557.8" r="5.1"/>
</g>
<g fill="none" stroke="#15156e" stroke-width="1.8">
<circle cx="1243.1" cy="474.6" r="5.1"/>
<circle cx="1243.1" cy="522.6" r="5.1"/>
<circle cx="1249.0" cy="528.5" r="5.1"/>
<circle cx="1237.2" cy="534.1" r="5.1"/>
<circle cx="1243.1" cy="544.5" r="5.1"/>
<circle cx="1249.0" cy="550.4" r="5.1"/>
<circle cx="1237.2" cy="551.6" r="5.1"/>
<circle cx="1243.1" cy="561.0" r="5.1"/>
<circle cx="1256.7" cy="563.4" r="5.1"/>
<circle cx="1230.1" cy="568.1" r="5.1"/>
<circle cx="1243.1" cy="569.3" r="5.1"/>
<circle cx="1237.2" cy="577.6" r="5.1"/>
<circle cx="1249.0" cy="578.1" r="5.1"/>
<circle cx="1237.2" cy="584.6" r="5.1"/>
<circle cx="1249.0" cy="584.0" r="5.1"/>
<circle cx="1527.5" cy="113.9" r="5.1"/>
<circle cx="1520.4" cy="181.2" r="5.1"/>
<circle cx="1532.8" cy="179.4" r="5.1"/>
<circle cx="1527.5" cy="207.7" r="5.1"/>
<circle cx="1521.0" cy="241.3" r="5.1"/>
<circle cx="1532.8" cy="238.7" r="5.1"/>
<circle cx="1527.1" cy="298.8" r="5.1"/>
<circle cx="1527.1" cy="314.3" r="5.1"/>
<circle cx="1527.1" cy="323.2" r="5.1"/>
<circle cx="1528.0" cy="332.0" r="5.1"/>
<circle cx="1520.9" cy="343.1" r="5.1"/>
<circle cx="1533.8" cy="339.8" r="5.1"/>
<circle cx="1527.1" cy="357.5" r="5.1"/>
<circle cx="1540.4" cy="406.6" r="5.1"/>
<circle cx="1514.9" cy="411.1" r="5.1"/>
<circle cx="1527.1" cy="410.6" r="5.1"/>
<circle cx="1527.1" cy="421.0" r="5.1"/>
<circle cx="1527.1" cy="431.6" r="5.1"/>
<circle cx="1540.4" cy="432.1" r="5.1"/>
<circle cx="1514.9" cy="436.1" r="5.1"/>
<circle cx="1540.4" cy="449.8" r="5.1"/>
<circle cx="1527.1" cy="452.7" r="5.1"/>
<circle cx="1514.9" cy="453.8" r="5.1"/>
<circle cx="1540.4" cy="469.3" r="5.1"/>
<circle cx="1527.1" cy="470.4" r="5.1"/>
<circle cx="1514.9" cy="474.8" r="5.1"/>
<circle cx="1527.1" cy="483.7" r="5.1"/>
<circle cx="1533.8" cy="494.3" r="5.1"/>
<circle cx="1520.9" cy="497.0" r="5.1"/>
<circle cx="1533.8" cy="511.3" r="5.1"/>
<circle cx="1520.9" cy="514.7" r="5.1"/>
<circle cx="1527.1" cy="524.6" r="5.1"/>
<circle cx="1527.1" cy="557.8" r="5.1"/>
</g>
<line x1="1056.0" y1="524.9" x2="1716.3" y2="524.9" stroke="#17139a" stroke-width="3"/>
<text x="1296.4" y="660.0" font-family='"Liberation Serif", serif' font-size="30" text-anchor="start" fill="#1a1a1a" stroke="#1a1a1a" stroke-width="0.45" textLength="138.0" lengthAdjust="spacingAndGlyphs">AHI ≥ 15/h</text>
<line x1="1055.6" y1="1275.3" x2="1757.0" y2="1275.3" stroke="#808080" stroke-width="1.8" stroke-dasharray="5.7 5.9"/>
<line x1="1055.6" y1="1186.1" x2="1757.0" y2="1186.1" stroke="#808080" stroke-width="1.8" stroke-dasharray="5.7 5.9"/>
<line x1="1055.6" y1="1096.9" x2="1757.0" y2="1096.9" stroke="#808080" stroke-width="1.8" stroke-dasharray="5.7 5.9"/>
<line x1="1055.6" y1="1007.8" x2="1757.0" y2="1007.8" stroke="#808080" stroke-width="1.8" stroke-dasharray="5.7 5.9"/>
<line x1="1055.6" y1="918.6" x2="1757.0" y2="918.6" stroke="#808080" stroke-width="1.8" stroke-dasharray="5.7 5.9"/>
<line x1="1055.6" y1="829.4" x2="1757.0" y2="829.4" stroke="#808080" stroke-width="1.8" stroke-dasharray="5.7 5.9"/>
<line x1="1055.6" y1="740.2" x2="1757.0" y2="740.2" stroke="#808080" stroke-width="1.8" stroke-dasharray="5.7 5.9"/>
<line x1="1253.6" y1="748.0" x2="1253.6" y2="1275.3" stroke="#808080" stroke-width="1.6" stroke-dasharray="5.7 5.9"/>
<line x1="1549.2" y1="748.0" x2="1549.2" y2="1275.3" stroke="#808080" stroke-width="1.6" stroke-dasharray="5.7 5.9"/>
<line x1="1044.4" y1="722.2" x2="1044.4" y2="1293.0" stroke="#1a1a1a" stroke-width="3"/>
<line x1="1042.9" y1="1291.5" x2="1762.7" y2="1291.5" stroke="#1a1a1a" stroke-width="3"/>
<line x1="1044.4" y1="1275.3" x2="1060.2" y2="1275.3" stroke="#1a1a1a" stroke-width="2.6"/>
<text x="1033.6" y="1278.1" font-family='"Liberation Sans", sans-serif' font-size="18.5" text-anchor="end" fill="#1a1a1a" stroke="#1a1a1a" stroke-width="0.35" textLength="10.4" lengthAdjust="spacingAndGlyphs">0</text>
<line x1="1044.4" y1="1230.7" x2="1051.4" y2="1230.7" stroke="#1a1a1a" stroke-width="1.5"/>
<line x1="1044.4" y1="1186.1" x2="1060.2" y2="1186.1" stroke="#1a1a1a" stroke-width="2.6"/>
<text x="1033.6" y="1188.9" font-family='"Liberation Sans", sans-serif' font-size="18.5" text-anchor="end" fill="#1a1a1a" stroke="#1a1a1a" stroke-width="0.35" textLength="20.6" lengthAdjust="spacingAndGlyphs">10</text>
<line x1="1044.4" y1="1141.5" x2="1051.4" y2="1141.5" stroke="#1a1a1a" stroke-width="1.5"/>
<line x1="1044.4" y1="1096.9" x2="1060.2" y2="1096.9" stroke="#1a1a1a" stroke-width="2.6"/>
<text x="1033.6" y="1099.7" font-family='"Liberation Sans", sans-serif' font-size="18.5" text-anchor="end" fill="#1a1a1a" stroke="#1a1a1a" stroke-width="0.35" textLength="20.6" lengthAdjust="spacingAndGlyphs">20</text>
<line x1="1044.4" y1="1052.3" x2="1051.4" y2="1052.3" stroke="#1a1a1a" stroke-width="1.5"/>
<line x1="1044.4" y1="1007.8" x2="1060.2" y2="1007.8" stroke="#1a1a1a" stroke-width="2.6"/>
<text x="1033.6" y="1010.6" font-family='"Liberation Sans", sans-serif' font-size="18.5" text-anchor="end" fill="#1a1a1a" stroke="#1a1a1a" stroke-width="0.35" textLength="20.6" lengthAdjust="spacingAndGlyphs">30</text>
<line x1="1044.4" y1="963.2" x2="1051.4" y2="963.2" stroke="#1a1a1a" stroke-width="1.5"/>
<line x1="1044.4" y1="918.6" x2="1060.2" y2="918.6" stroke="#1a1a1a" stroke-width="2.6"/>
<text x="1033.6" y="921.4" font-family='"Liberation Sans", sans-serif' font-size="18.5" text-anchor="end" fill="#1a1a1a" stroke="#1a1a1a" stroke-width="0.35" textLength="20.6" lengthAdjust="spacingAndGlyphs">40</text>
<line x1="1044.4" y1="874.0" x2="1051.4" y2="874.0" stroke="#1a1a1a" stroke-width="1.5"/>
<line x1="1044.4" y1="829.4" x2="1060.2" y2="829.4" stroke="#1a1a1a" stroke-width="2.6"/>
<text x="1033.6" y="832.2" font-family='"Liberation Sans", sans-serif' font-size="18.5" text-anchor="end" fill="#1a1a1a" stroke="#1a1a1a" stroke-width="0.35" textLength="20.6" lengthAdjust="spacingAndGlyphs">50</text>
<line x1="1044.4" y1="784.8" x2="1051.4" y2="784.8" stroke="#1a1a1a" stroke-width="1.5"/>
<line x1="1044.4" y1="740.2" x2="1060.2" y2="740.2" stroke="#1a1a1a" stroke-width="2.6"/>
<text x="1033.6" y="743.0" font-family='"Liberation Sans", sans-serif' font-size="18.5" text-anchor="end" fill="#1a1a1a" stroke="#1a1a1a" stroke-width="0.35" textLength="20.6" lengthAdjust="spacingAndGlyphs">60</text>
<line x1="1254.5" y1="1291.5" x2="1254.5" y2="1275.3" stroke="#1a1a1a" stroke-width="2.6"/>
<text x="1253.1" y="1312.6" font-family='"Liberation Sans", sans-serif' font-size="18.5" text-anchor="middle" fill="#1a1a1a" stroke="#1a1a1a" stroke-width="0.35">0</text>
<line x1="1550.1" y1="1291.5" x2="1550.1" y2="1275.3" stroke="#1a1a1a" stroke-width="2.6"/>
<text x="1548.7" y="1312.6" font-family='"Liberation Sans", sans-serif' font-size="18.5" text-anchor="middle" fill="#1a1a1a" stroke="#1a1a1a" stroke-width="0.35">1</text>
<g fill="#fff" stroke="none">
<circle cx="1253.2" cy="1183.5" r="5.1"/>
<circle cx="1253.2" cy="1200.3" r="5.1"/>
<circle cx="1253.2" cy="1204.1" r="5.1"/>
<circle cx="1259.9" cy="1208.9" r="5.1"/>
<circle cx="1246.9" cy="1213.3" r="5.1"/>
<circle cx="1259.9" cy="1221.4" r="5.1"/>
<circle cx="1246.9" cy="1226.2" r="5.1"/>
<circle cx="1253.2" cy="1237.7" r="5.1"/>
<circle cx="1259.9" cy="1245.4" r="5.1"/>
<circle cx="1246.9" cy="1248.8" r="5.1"/>
<circle cx="1273.8" cy="1253.6" r="5.1"/>
<circle cx="1259.9" cy="1254.5" r="5.1"/>
<circle cx="1234.0" cy="1257.9" r="5.1"/>
<circle cx="1246.9" cy="1257.9" r="5.1"/>
<circle cx="1259.9" cy="1263.6" r="5.1"/>
<circle cx="1246.9" cy="1266.5" r="5.1"/>
<circle cx="1548.7" cy="745.5" r="5.1"/>
<circle cx="1548.7" cy="788.6" r="5.1"/>
<circle cx="1548.7" cy="839.5" r="5.1"/>
<circle cx="1548.7" cy="867.2" r="5.1"/>
<circle cx="1548.7" cy="911.5" r="5.1"/>
<circle cx="1555.3" cy="918.1" r="5.1"/>
<circle cx="1542.0" cy="922.6" r="5.1"/>
<circle cx="1548.7" cy="953.6" r="5.1"/>
<circle cx="1548.7" cy="983.5" r="5.1"/>
<circle cx="1548.7" cy="995.6" r="5.1"/>
<circle cx="1548.7" cy="1005.6" r="5.1"/>
<circle cx="1548.7" cy="1033.8" r="5.1"/>
<circle cx="1548.7" cy="1048.2" r="5.1"/>
<circle cx="1548.7" cy="1064.8" r="5.1"/>
<circle cx="1548.7" cy="1076.3" r="5.1"/>
<circle cx="1548.7" cy="1086.7" r="5.1"/>
<circle cx="1556.4" cy="1088.9" r="5.1"/>
<circle cx="1542.7" cy="1096.7" r="5.1"/>
<circle cx="1548.7" cy="1106.2" r="5.1"/>
<circle cx="1563.5" cy="1108.0" r="5.1"/>
<circle cx="1536.0" cy="1113.9" r="5.1"/>
<circle cx="1548.7" cy="1113.9" r="5.1"/>
<circle cx="1555.3" cy="1142.1" r="5.1"/>
<circle cx="1542.7" cy="1148.9" r="5.1"/>
<circle cx="1548.7" cy="1156.4" r="5.1"/>
<circle cx="1548.7" cy="1169.3" r="5.1"/>
<circle cx="1548.7" cy="1179.2" r="5.1"/>
<circle cx="1542.7" cy="1192.1" r="5.1"/>
<circle cx="1555.3" cy="1192.1" r="5.1"/>
<circle cx="1569.7" cy="1193.2" r="5.1"/>
<circle cx="1529.8" cy="1199.8" r="5.1"/>
</g>
<g fill="none" stroke="#15156e" stroke-width="1.8">
<circle cx="1253.2" cy="1183.5" r="5.1"/>
<circle cx="1253.2" cy="1200.3" r="5.1"/>
<circle cx="1253.2" cy="1204.1" r="5.1"/>
<circle cx="1259.9" cy="1208.9" r="5.1"/>
<circle cx="1246.9" cy="1213.3" r="5.1"/>
<circle cx="1259.9" cy="1221.4" r="5.1"/>
<circle cx="1246.9" cy="1226.2" r="5.1"/>
<circle cx="1253.2" cy="1237.7" r="5.1"/>
<circle cx="1259.9" cy="1245.4" r="5.1"/>
<circle cx="1246.9" cy="1248.8" r="5.1"/>
<circle cx="1273.8" cy="1253.6" r="5.1"/>
<circle cx="1259.9" cy="1254.5" r="5.1"/>
<circle cx="1234.0" cy="1257.9" r="5.1"/>
<circle cx="1246.9" cy="1257.9" r="5.1"/>
<circle cx="1259.9" cy="1263.6" r="5.1"/>
<circle cx="1246.9" cy="1266.5" r="5.1"/>
<circle cx="1548.7" cy="745.5" r="5.1"/>
<circle cx="1548.7" cy="788.6" r="5.1"/>
<circle cx="1548.7" cy="839.5" r="5.1"/>
<circle cx="1548.7" cy="867.2" r="5.1"/>
<circle cx="1548.7" cy="911.5" r="5.1"/>
<circle cx="1555.3" cy="918.1" r="5.1"/>
<circle cx="1542.0" cy="922.6" r="5.1"/>
<circle cx="1548.7" cy="953.6" r="5.1"/>
<circle cx="1548.7" cy="983.5" r="5.1"/>
<circle cx="1548.7" cy="995.6" r="5.1"/>
<circle cx="1548.7" cy="1005.6" r="5.1"/>
<circle cx="1548.7" cy="1033.8" r="5.1"/>
<circle cx="1548.7" cy="1048.2" r="5.1"/>
<circle cx="1548.7" cy="1064.8" r="5.1"/>
<circle cx="1548.7" cy="1076.3" r="5.1"/>
<circle cx="1548.7" cy="1086.7" r="5.1"/>
<circle cx="1556.4" cy="1088.9" r="5.1"/>
<circle cx="1542.7" cy="1096.7" r="5.1"/>
<circle cx="1548.7" cy="1106.2" r="5.1"/>
<circle cx="1563.5" cy="1108.0" r="5.1"/>
<circle cx="1536.0" cy="1113.9" r="5.1"/>
<circle cx="1548.7" cy="1113.9" r="5.1"/>
<circle cx="1555.3" cy="1142.1" r="5.1"/>
<circle cx="1542.7" cy="1148.9" r="5.1"/>
<circle cx="1548.7" cy="1156.4" r="5.1"/>
<circle cx="1548.7" cy="1169.3" r="5.1"/>
<circle cx="1548.7" cy="1179.2" r="5.1"/>
<circle cx="1542.7" cy="1192.1" r="5.1"/>
<circle cx="1555.3" cy="1192.1" r="5.1"/>
<circle cx="1569.7" cy="1193.2" r="5.1"/>
<circle cx="1529.8" cy="1199.8" r="5.1"/>
</g>
<line x1="1059.2" y1="1202.7" x2="1746.7" y2="1202.7" stroke="#18186a" stroke-width="2.9"/>
<text x="1296.4" y="1342.6" font-family='"Liberation Serif", serif' font-size="30" text-anchor="start" fill="#1a1a1a" stroke="#1a1a1a" stroke-width="0.45" textLength="138.0" lengthAdjust="spacingAndGlyphs">AHI ≥ 15/h</text>
</svg>
</body></html>
